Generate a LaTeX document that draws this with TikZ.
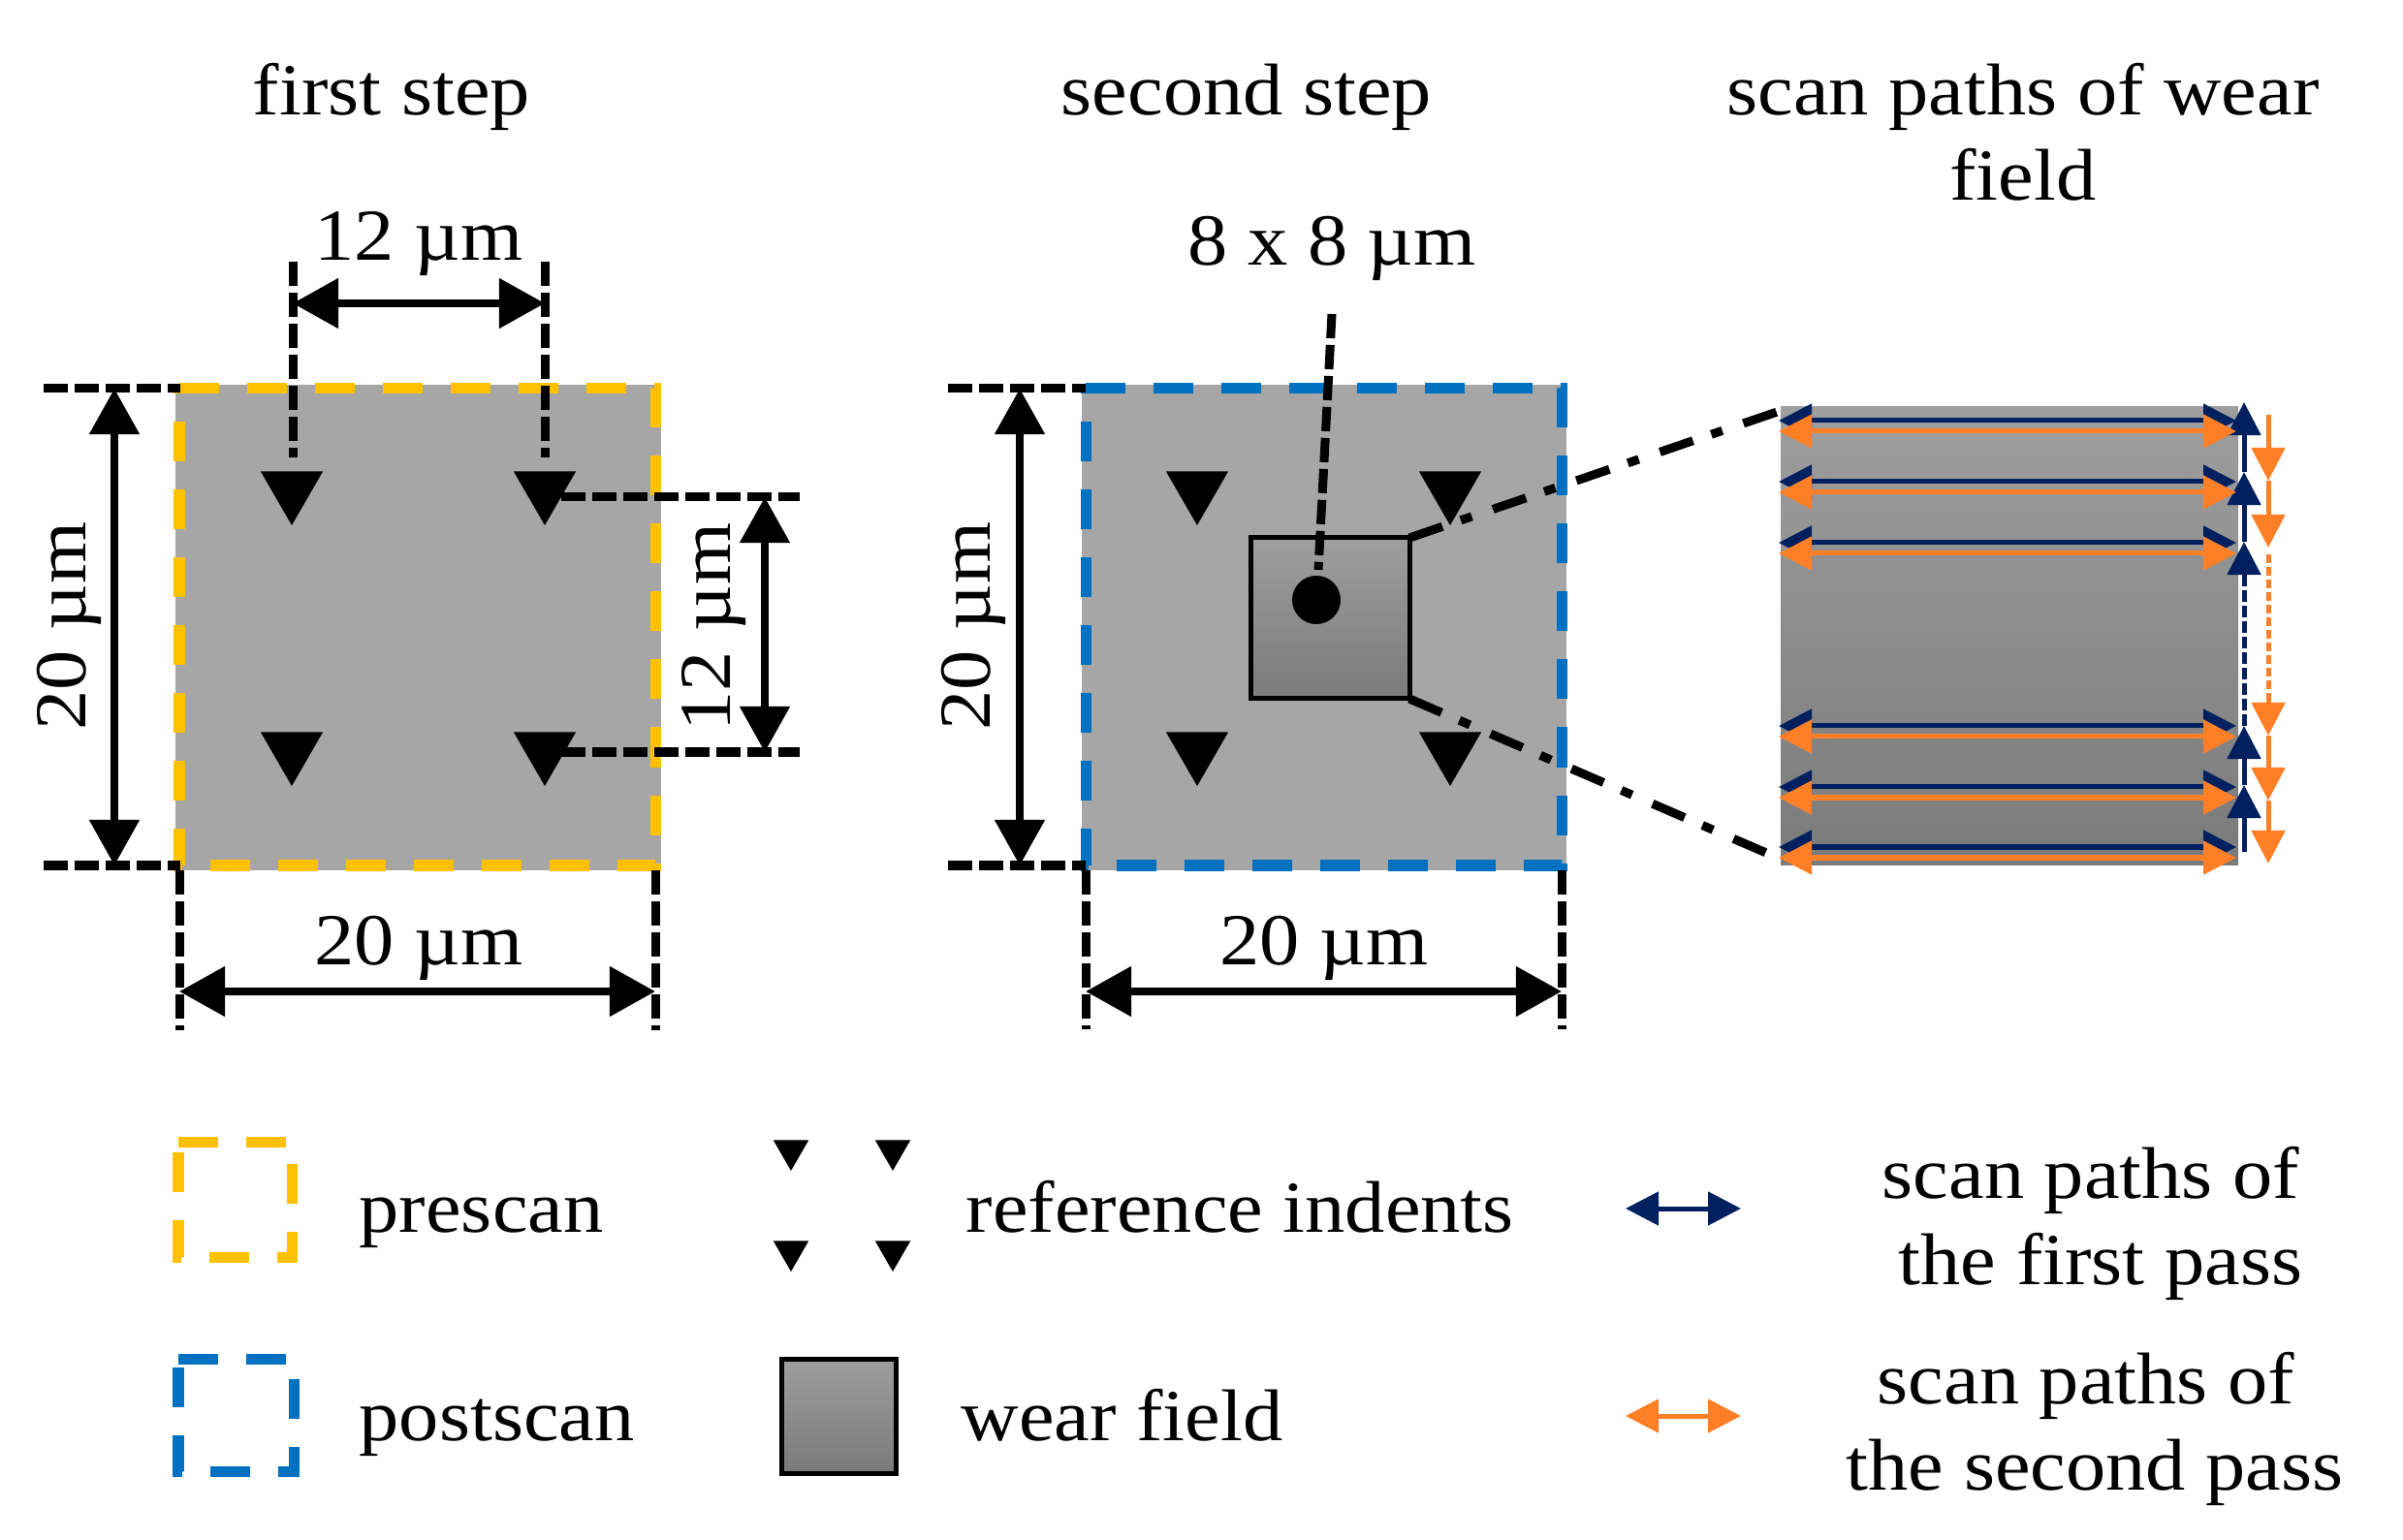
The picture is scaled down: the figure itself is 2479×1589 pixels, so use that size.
\documentclass[tikz,border=0pt]{standalone}
\usepackage{fontspec}
\setmainfont[FakeStretch=1.09]{Liberation Serif}
\usetikzlibrary{arrows.meta, shapes.geometric}
\definecolor{prescancol}{HTML}{FFC000}
\definecolor{postscancol}{HTML}{0070C0}
\definecolor{firstcol}{HTML}{002060}
\definecolor{secondcol}{HTML}{FF7F27}
\definecolor{fieldcol}{HTML}{A6A6A6}
\tikzstyle{txt} = [inner sep=0pt, anchor=base, align=center, font=\fontsize{21.5}{25}\selectfont]
\tikzstyle{txtl} = [txt, anchor=base west]
\tikzstyle{txtr} = [txt, rotate=90]
\tikzstyle{indent} = [regular polygon, regular polygon sides=3, shape border rotate=180, fill=black, inner sep=0pt, outer sep=0pt, minimum size=0.74cm]
\tikzstyle{indents} = [indent, minimum size=0.42cm]
\tikzstyle{ext} = [line width=0.09cm, dash pattern=on 0.25cm off 0.07cm]
\tikzstyle{zoomln} = [line width=0.09cm, dash pattern=on 0.36cm off 0.2cm on 0.12cm off 0.23cm]
\tikzstyle{dim} = [line width=0.08cm, {Triangle[length=0.47cm,width=0.5cm]}-{Triangle[length=0.47cm,width=0.5cm]}]
\tikzstyle{scanpre} = [prescancol, line width=0.11cm, dash pattern=on 0.41cm off 0.29cm]
\tikzstyle{scanpost} = [postscancol, line width=0.11cm, dash pattern=on 0.41cm off 0.29cm]
\tikzstyle{wear} = [top color=black!38, bottom color=black!52, draw=black, line width=0.05cm]
\tikzstyle{pathf} = [firstcol, line width=0.05cm, {Triangle[length=0.34cm,width=0.34cm]}-{Triangle[length=0.34cm,width=0.34cm]}]
\tikzstyle{paths} = [pathf, secondcol]
\tikzstyle{upf} = [firstcol, line width=0.05cm, -{Triangle[length=0.34cm,width=0.34cm]}]
\tikzstyle{dns} = [secondcol, line width=0.05cm, -{Triangle[length=0.34cm,width=0.34cm]}]

\begin{document}
\begin{tikzpicture}[x=0.01cm, y=-0.01cm]
	\useasboundingbox (0,0) rectangle (2479,1589);
	% titles
	\node [txt] (t1) at (404,119) {first step};
	\node [txt] (t2) at (1286,119) {second step};
	\node [txt] (t3) at (2087,119) {scan paths of wear};
	\node [txt] (t4) at (2087,207) {field};

	% first step
	\fill [fieldcol] (181,397) rectangle (682,898);
	\draw [scanpre] (185,401) -- (676,401) -- (676,893) -- (185,893) -- cycle;
	\foreach \n/\x/\y in {a/301/505, b/562/505, c/301/774, d/562/774}
		\node [indent] (i\n) at (\x,\y) {};
	% dimension ends
	\coordinate (h1a) at (45,401);
	\coordinate (h1b) at (186,401);
	\coordinate (h2a) at (45,893);
	\coordinate (h2b) at (186,893);
	\coordinate (v1a) at (302,270);
	\coordinate (v1b) at (302,472);
	\coordinate (v2a) at (562,270);
	\coordinate (v2b) at (562,472);
	\coordinate (r1a) at (579,513);
	\coordinate (r1b) at (825,513);
	\coordinate (r2a) at (579,776);
	\coordinate (r2b) at (825,776);
	\coordinate (b1a) at (185,898);
	\coordinate (b1b) at (185,1063);
	\coordinate (b2a) at (676,898);
	\coordinate (b2b) at (676,1063);
	\draw [ext] (h1a) -- (h1b);
	\draw [ext] (h2a) -- (h2b);
	\draw [ext] (v1a) -- (v1b);
	\draw [ext] (v2a) -- (v2b);
	\draw [ext] (r1a) -- (r1b);
	\draw [ext] (r2a) -- (r2b);
	\draw [ext] (b1a) -- (b1b);
	\draw [ext] (b2a) -- (b2b);
	\coordinate (d1a) at (118,401);
	\coordinate (d1b) at (118,893);
	\coordinate (d2a) at (302,313);
	\coordinate (d2b) at (562,313);
	\coordinate (d3a) at (789,513);
	\coordinate (d3b) at (789,776);
	\coordinate (d4a) at (185,1023);
	\coordinate (d4b) at (676,1023);
	\draw [dim] (d1a) -- (d1b);
	\draw [dim] (d2a) -- (d2b);
	\draw [dim] (d3a) -- (d3b);
	\draw [dim] (d4a) -- (d4b);
	\node [txt] (l1) at (432,269) {12 µm};
	\node [txt] (l2) at (432,995) {20 µm};
	\node [txtr] (l3) at (88,646) {20 µm};
	\node [txtr] (l4) at (753,647) {12 µm};

	% second step
	\fill [fieldcol] (1116,397) rectangle (1616,898);
	\draw [scanpost] (1120,401) -- (1611,401) -- (1611,893) -- (1120,893) -- cycle;
	\foreach \n/\x/\y in {a/1235/505, b/1496/505, c/1235/774, d/1496/774}
		\node [indent] (j\n) at (\x,\y) {};
	\shade [wear] (1290,555) rectangle (1454,721);
	\coordinate (wtr) at (1454,555);
	\coordinate (wbr) at (1454,721);
	\fill (1358,619) circle (25);
	\coordinate (k1a) at (978,401);
	\coordinate (k1b) at (1120,401);
	\coordinate (k2a) at (978,893);
	\coordinate (k2b) at (1120,893);
	\coordinate (k3a) at (1120,898);
	\coordinate (k3b) at (1120,1062);
	\coordinate (k4a) at (1611,898);
	\coordinate (k4b) at (1611,1062);
	\coordinate (lead) at (1374,324);
	\coordinate (dot) at (1360,588);
	\draw [ext] (k1a) -- (k1b);
	\draw [ext] (k2a) -- (k2b);
	\draw [ext] (k3a) -- (k3b);
	\draw [ext] (k4a) -- (k4b);
	\draw [ext] (lead) -- (dot);
	\coordinate (m1a) at (1052,401);
	\coordinate (m1b) at (1052,893);
	\coordinate (m2a) at (1120,1023);
	\coordinate (m2b) at (1611,1023);
	\draw [dim] (m1a) -- (m1b);
	\draw [dim] (m2a) -- (m2b);
	\node [txt] (l5) at (1374,274) {8 x 8 µm};
	\node [txt] (l6) at (1366,995) {20 µm};
	\node [txtr] (l7) at (1021,646) {20 µm};

	% scan paths
	\shade [top color=black!38, bottom color=black!52] (1837,420) rectangle (2309,893);
	\coordinate (zta) at (1842,422);
	\coordinate (zba) at (1836,886);
	\draw [zoomln] (wtr) -- (zta);
	\draw [zoomln] (wbr) -- (zba);
	\foreach \y in {434, 497, 560, 749, 812, 874} {
		\coordinate (fa\y) at (1835,\y);
		\coordinate (fb\y) at (2307,\y);
		\draw [pathf] (fa\y) -- (fb\y);
	}
	% first pass, upwards
	\coordinate (u0) at (2315,879);
	\coordinate (u1) at (2315,810);
	\coordinate (u2) at (2315,749);
	\coordinate (u3) at (2315,600);
	\coordinate (u4) at (2315,559);
	\coordinate (u5) at (2315,487);
	\coordinate (u6) at (2315,415);
	\draw [upf] (u0) -- (u1);
	\draw [upf] (u1) -- (u2);
	\draw [firstcol, line width=0.05cm, dash pattern=on 0.12cm off 0.04cm] (u2) -- (u3);
	\draw [upf] (u3) -- (u4);
	\draw [upf] (u4) -- (u5);
	\draw [upf] (u5) -- (u6);
	\foreach \y in {445, 508, 571, 760, 823, 885} {
		\coordinate (sa\y) at (1835,\y);
		\coordinate (sb\y) at (2307,\y);
		\draw [paths] (sa\y) -- (sb\y);
	}
	% second pass, downwards
	\coordinate (o0) at (2340,428);
	\coordinate (o1) at (2340,496);
	\coordinate (o2) at (2340,565);
	\coordinate (o3) at (2340,572);
	\coordinate (o4) at (2340,716);
	\coordinate (o5) at (2340,759);
	\coordinate (o6) at (2340,826);
	\coordinate (o7) at (2340,891);
	\draw [dns] (o0) -- (o1);
	\draw [dns] (o1) -- (o2);
	\draw [secondcol, line width=0.05cm, dash pattern=on 0.09cm off 0.04cm] (o3) -- (o4);
	\draw [dns] (o4) -- (o5);
	\draw [dns] (o5) -- (o6);
	\draw [dns] (o6) -- (o7);

	% legend
	\draw [scanpre] (184,1178) -- (301,1178) -- (301,1297) -- (184,1297) -- cycle;
	\draw [scanpost] (184,1402) -- (303,1402) -- (303,1518) -- (184,1518) -- cycle;
	\node [txtl] (lg1) at (370,1271) {prescan};
	\node [txtl] (lg2) at (370,1486) {postscan};
	\foreach \n/\x/\y in {a/816/1187, b/921/1187, c/816/1291, d/921/1291}
		\node [indents] (g\n) at (\x,\y) {};
	\shade [wear] (806,1402) rectangle (924,1520);
	\node [txtl] (lg3) at (996,1271) {reference indents};
	\node [txtl] (lg4) at (991,1486) {wear field};
	\coordinate (fla) at (1677,1247);
	\coordinate (flb) at (1796,1247);
	\coordinate (sla) at (1677,1461);
	\coordinate (slb) at (1796,1461);
	\draw [pathf] (fla) -- (flb);
	\draw [paths] (sla) -- (slb);
	\node [txt] (lg5) at (2157,1236) {scan paths of};
	\node [txt] (lg6) at (2167,1325) {the first pass};
	\node [txt] (lg7) at (2152,1448) {scan paths of};
	\node [txt] (lg8) at (2161,1537) {the second pass};
\end{tikzpicture}
\end{document}
